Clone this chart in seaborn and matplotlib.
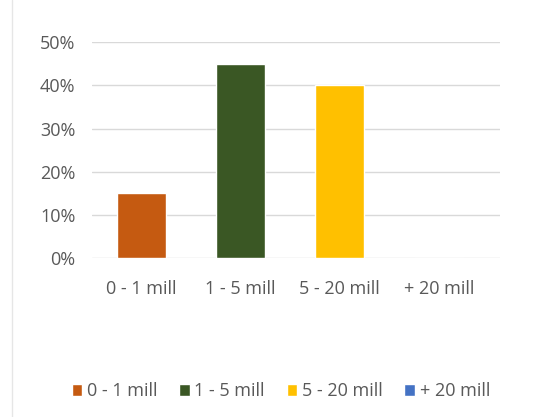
import pandas as pd
import matplotlib
matplotlib.use("Agg")
import matplotlib.pyplot as plt
import seaborn as sns
from matplotlib.patches import Patch
from matplotlib.lines import Line2D
from matplotlib.ticker import PercentFormatter

# Dados
categorias = ["0 - 1 mill", "1 - 5 mill", "5 - 20 mill", "+ 20 mill"]
valores = [0.15, 0.45, 0.40, 0.0]
cores = ["#C55A11", "#3A5724", "#FFC000", "#4472C4"]
yticks = [0.0, 0.1, 0.2, 0.3, 0.4, 0.5]

df = pd.DataFrame({"Faixa": categorias, "Valor": valores})

sns.set_style("white")
plt.rcParams["font.family"] = ["Open Sans", "DejaVu Sans"]
texto = "#595959"

fig = plt.figure(figsize=(5.35, 4.17), dpi=100)
ax = fig.add_axes([0.172, 0.381, 0.763, 0.518])

sns.barplot(data=df, x="Faixa", y="Valor", hue="Faixa", palette=cores,
            width=0.5, saturation=1, legend=False, ax=ax, zorder=3)

ax.set_ylim(0, 0.5)
ax.set_xlim(-0.5, 3.62)
ax.set_yticks(yticks)
ax.yaxis.set_major_formatter(PercentFormatter(1.0, decimals=0))
ax.grid(True, axis="y", color="#D9D9D9", linewidth=1, zorder=0)
ax.set_axisbelow(True)
for s in ax.spines.values():
    s.set_visible(False)
ax.set_xlabel("")
ax.set_ylabel("")
ax.tick_params(axis="both", length=0, labelsize=13, labelcolor=texto)
ax.tick_params(axis="y", pad=12)
ax.tick_params(axis="x", pad=16)

# moldura esquerda
fig.add_artist(Line2D([0.023, 0.023], [0.0, 1.0], color="#E6E6E6", linewidth=1))

handles = [Patch(facecolor=c, label=l) for c, l in zip(cores, categorias)]
leg = fig.legend(handles=handles, loc="center", bbox_to_anchor=(0.525, 0.062),
                 ncol=4, frameon=False, handlelength=0.6, handleheight=0.6,
                 handletextpad=0.25, columnspacing=1.2, fontsize=13)
for t in leg.get_texts():
    t.set_color(texto)

fig.savefig("out.png", dpi=100, facecolor="white")
